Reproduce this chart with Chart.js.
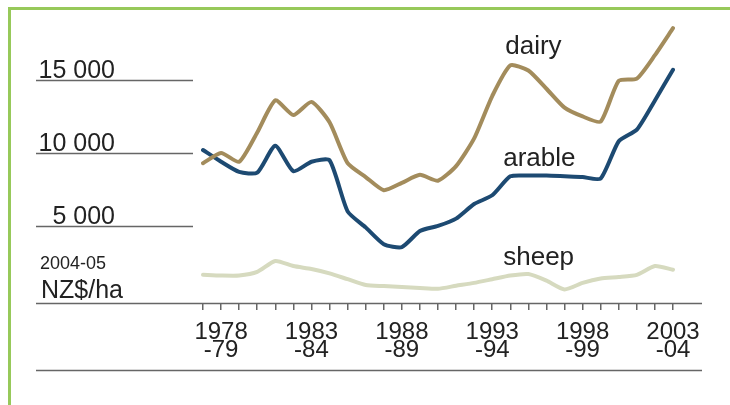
<!DOCTYPE html>
<html>
<head>
<meta charset="utf-8">
<script src="https://cdn.jsdelivr.net/npm/chart.js@4.4.1/dist/chart.umd.min.js"></script>
<style>
  html, body { margin: 0; padding: 0; background: #fff; }
  #wrap { width: 730px; height: 405px; }
</style>
</head>
<body>
<div id="wrap"><canvas id="landChart" width="730" height="405"></canvas></div>
<script>
// Season categories (one point per farm year)
const seasons = [
  "1977-78", "1978-79", "1979-80", "1980-81", "1981-82", "1982-83", "1983-84",
  "1984-85", "1985-86", "1986-87", "1987-88", "1988-89", "1989-90", "1990-91",
  "1991-92", "1992-93", "1993-94", "1994-95", "1995-96", "1996-97", "1997-98",
  "1998-99", "1999-00", "2000-01", "2001-02", "2002-03", "2003-04"
];
// Seasons that get a text label on the x axis
const labelledSeasons = ["1978-79", "1983-84", "1988-89", "1993-94", "1998-99", "2003-04"];

// Land value, 2004-05 NZ$/ha
const dairy = [9300, 10000, 9400, 11400, 13600, 12600, 13500, 12100, 9300, 8350, 7450, 7950, 8500, 8100,
  9100, 11000, 13900, 16000, 15650, 14400, 13100, 12500, 12150, 14950, 15100, 16700, 18550];
const arable = [10200, 9400, 8700, 8650, 10500, 8750, 9400, 9500, 6000, 4900, 3750, 3550, 4650, 5000,
  5500, 6500, 7100, 8400, 8450, 8450, 8400, 8350, 8250, 10800, 11600, 13600, 15700];
const sheep = [1650, 1600, 1600, 1850, 2600, 2250, 2050, 1750, 1350, 950, 880, 820, 750, 690,
  900, 1100, 1350, 1600, 1700, 1250, 650, 1100, 1400, 1500, 1650, 2250, 2000];

const yTicks = [5000, 10000, 15000];
const yTickLabels = ["5 000", "10 000", "15 000"];
const unitLabel = ["2004-05", "NZ$/ha"];

const FONT = "'Liberation Sans', Arial, sans-serif";
const TEXT = "#222";

// Draws the frame, short value lines, axis rules and series names
const decorations = {
  id: "decorations",
  afterDraw(chart) {
    const ctx = chart.ctx;
    const x = chart.scales.x;
    const y = chart.scales.y;
    const area = chart.chartArea;
    ctx.save();

    // green frame (top and left)
    ctx.fillStyle = "#97c95a";
    ctx.fillRect(8, 7, 730, 3);
    ctx.fillRect(8, 7, 3, 405);

    // short value lines with labels
    ctx.strokeStyle = "#666";
    ctx.lineWidth = 1.5;
    ctx.fillStyle = TEXT;
    ctx.font = "25px " + FONT;
    ctx.textAlign = "right";
    ctx.textBaseline = "alphabetic";
    yTicks.forEach((v, i) => {
      const py = Math.round(y.getPixelForValue(v)) + 0.5;
      ctx.beginPath();
      ctx.moveTo(36, py);
      ctx.lineTo(193, py);
      ctx.stroke();
      ctx.fillText(yTickLabels[i], 115, py - 3);
    });

    // axis line and bottom rule
    const base = area.bottom + 0.5;
    ctx.beginPath();
    ctx.moveTo(36, base);
    ctx.lineTo(702, base);
    ctx.moveTo(36, base + 67);
    ctx.lineTo(702, base + 67);
    ctx.stroke();

    // unit label
    ctx.textAlign = "left";
    ctx.font = "18px " + FONT;
    ctx.fillText(unitLabel[0], 40, base - 35);
    ctx.font = "25px " + FONT;
    ctx.fillText(unitLabel[1], 41, base - 6);

    // series names
    ctx.font = "26px " + FONT;
    const lx = x.getPixelForValue(16) + 11;
    ctx.fillText("dairy", lx + 2, y.getPixelForValue(16750));
    ctx.fillText("arable", lx, y.getPixelForValue(9100));
    ctx.fillText("sheep", lx, y.getPixelForValue(2350));
    ctx.restore();
  }
};

const ctx = document.getElementById("landChart").getContext("2d");
const landChart = new Chart(ctx, {
  type: "line",
  data: {
    labels: seasons,
    datasets: [
      { label: "dairy", data: dairy, borderColor: "#a38c5c" },
      { label: "arable", data: arable, borderColor: "#1d4a72" },
      { label: "sheep", data: sheep, borderColor: "#d6dabf" }
    ]
  },
  options: {
    responsive: false,
    animation: false,
    devicePixelRatio: 1,
    layout: { padding: { left: 203, right: 57, top: 7, bottom: 0 } },
    elements: {
      line: { borderWidth: 4, tension: 0.2, borderJoinStyle: "round", borderCapStyle: "round", fill: false },
      point: { radius: 0 }
    },
    plugins: {
      legend: { display: false },
      tooltip: { enabled: false }
    },
    scales: {
      x: {
        type: "category",
        offset: false,
        border: { display: false },
        grid: { display: true, drawOnChartArea: false, drawTicks: true, tickLength: 7, color: "#666", lineWidth: 1.5 },
        ticks: {
          autoSkip: false,
          maxRotation: 0,
          padding: 13,
          color: TEXT,
          font: { family: FONT, size: 24, lineHeight: 0.75 },
          callback: function (value, index) {
            const s = seasons[index];
            if (!labelledSeasons.includes(s)) return "";
            return [s.slice(0, 4), "-" + s.slice(5)];
          }
        },
        afterFit: (scale) => { scale.height = 102; }
      },
      y: {
        display: false,
        min: -280,
        max: 20000
      }
    }
  },
  plugins: [decorations]
});
</script>
</body>
</html>
